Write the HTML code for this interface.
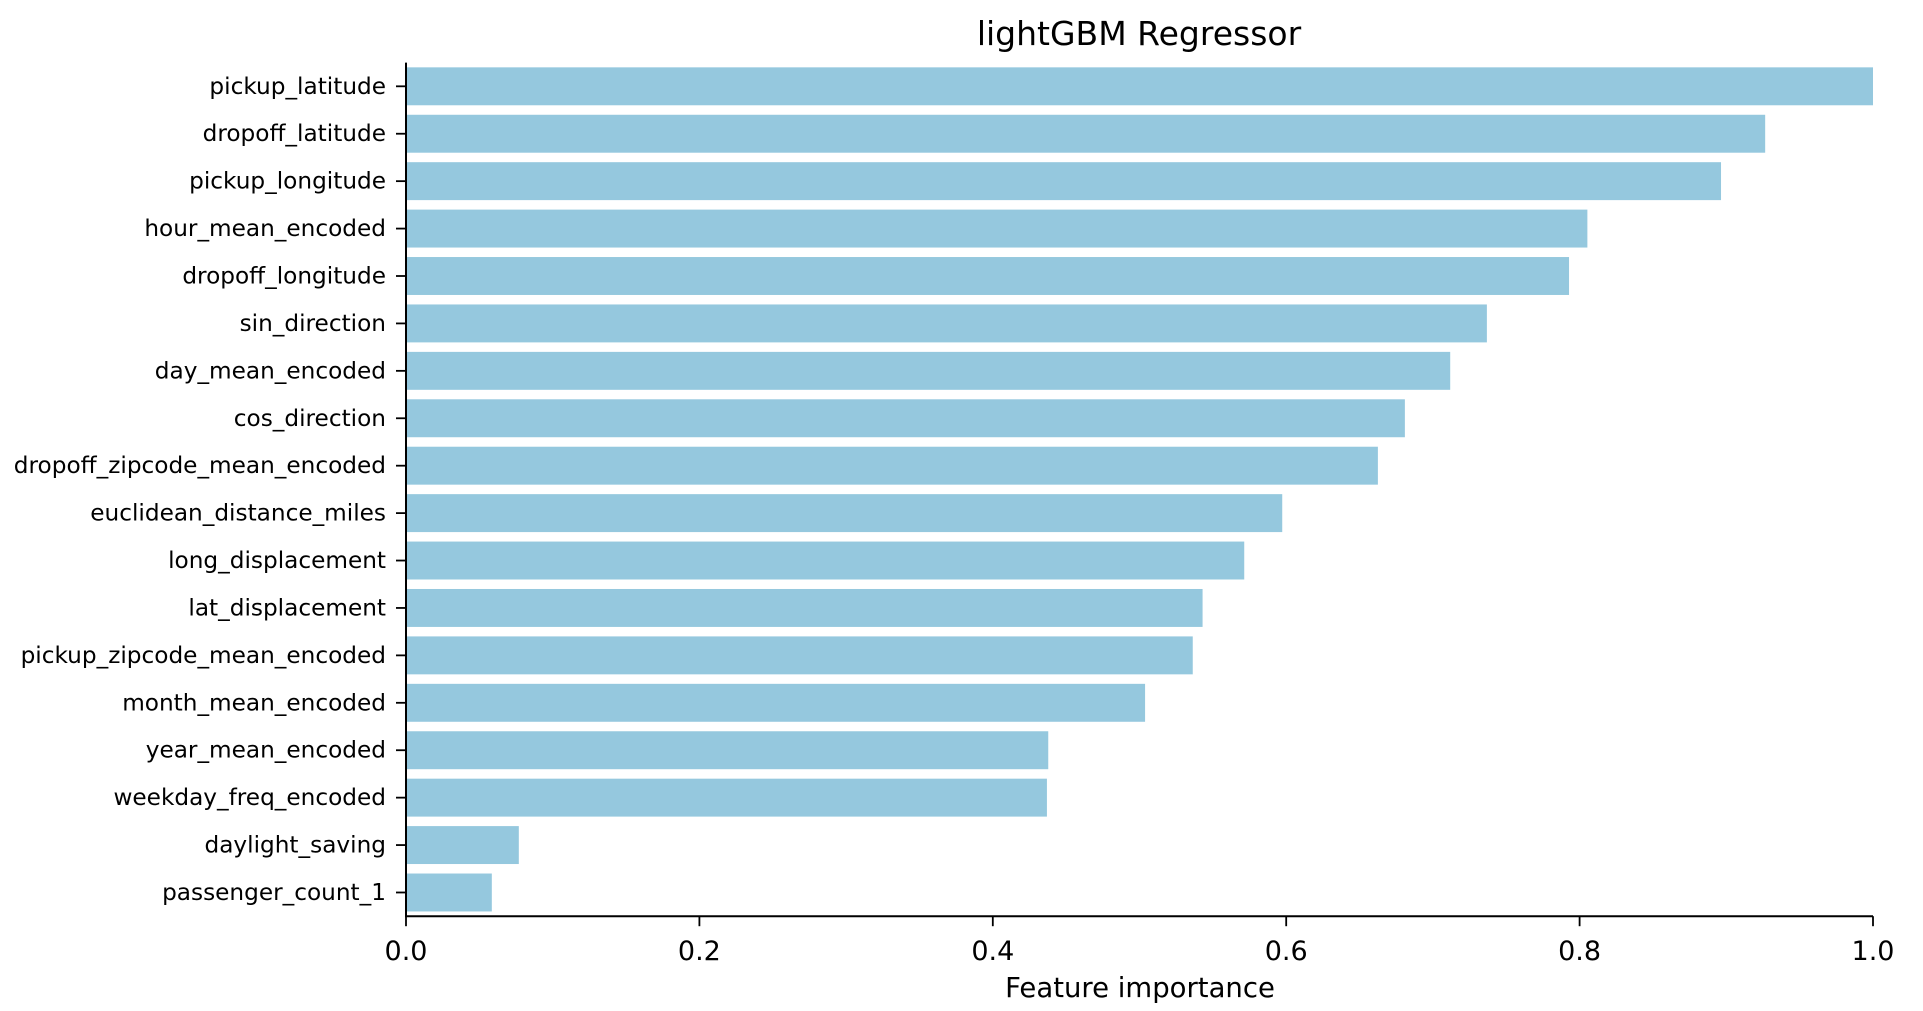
<!DOCTYPE html>
<html><head><meta charset="utf-8"><style>
html,body{margin:0;padding:0;background:#fff;}
svg{display:block;font-family:"DejaVu Sans","Liberation Sans",sans-serif;}
</style></head><body>
<svg id="chart" width="1923" height="1011"></svg>
<script>
const categories = ["pickup_latitude","dropoff_latitude","pickup_longitude","hour_mean_encoded","dropoff_longitude","sin_direction","day_mean_encoded","cos_direction","dropoff_zipcode_mean_encoded","euclidean_distance_miles","long_displacement","lat_displacement","pickup_zipcode_mean_encoded","month_mean_encoded","year_mean_encoded","weekday_freq_encoded","daylight_saving","passenger_count_1"];
const importances = [1.0,0.9265,0.8964,0.8053,0.7928,0.7368,0.7118,0.6809,0.6625,0.5973,0.5714,0.543,0.5363,0.5038,0.4378,0.4369,0.0769,0.0585];
const xTicks = [0,0.2,0.4,0.6,0.8,1.0];
const xTickLabels = ["0.0","0.2","0.4","0.6","0.8","1.0"];

const NS="http://www.w3.org/2000/svg";
const svg=document.getElementById('chart');
const L=406,R=1873,T=62.6,B=916.2;
const n=categories.length;
const xScale=v=>L+(R-L)*v/1.0;
const band=(B-T)/n;
const yScale=i=>T+band*(i+0.5);
function mk(tag,attrs){const e=document.createElementNS(NS,tag);for(const k in attrs)e.setAttribute(k,attrs[k]);svg.appendChild(e);return e;}

importances.forEach((v,i)=>{
  const r=mk('rect',{x:xScale(0),y:yScale(i)-band*0.4,width:xScale(v)-xScale(0),height:band*0.8,fill:'#95c8de'});
  
  
  const tk=mk('line',{x1:L-10,x2:L,y1:yScale(i),y2:yScale(i),stroke:'#000','stroke-width':1.8});
  
  
  const t=mk('text',{x:L-20,y:yScale(i),'text-anchor':'end','dominant-baseline':'central','font-size':23.2,fill:'#000'});
  t.textContent=categories[i];
  
  
});
xTicks.forEach((v,i)=>{
  const tk=mk('line',{x1:xScale(v),x2:xScale(v),y1:B,y2:B+10,stroke:'#000','stroke-width':1.8});
  
  
  const t=mk('text',{x:xScale(v),y:960,'text-anchor':'middle','font-size':27,fill:'#000'});
  t.textContent=xTickLabels[i];
  
  
});
const ya=mk('line',{x1:L,x2:L,y1:T,y2:B,stroke:'#000','stroke-width':2});


const xa=mk('line',{x1:L-1,x2:R,y1:B,y2:B,stroke:'#000','stroke-width':2});


const xl=mk('text',{x:1140,y:997,'text-anchor':'middle','font-size':27.5,fill:'#000'});
xl.textContent='Feature importance';


const ti=mk('text',{x:1139,y:45,'text-anchor':'middle','font-size':33,fill:'#000'});
ti.textContent='lightGBM Regressor';


</script>
</body></html>
